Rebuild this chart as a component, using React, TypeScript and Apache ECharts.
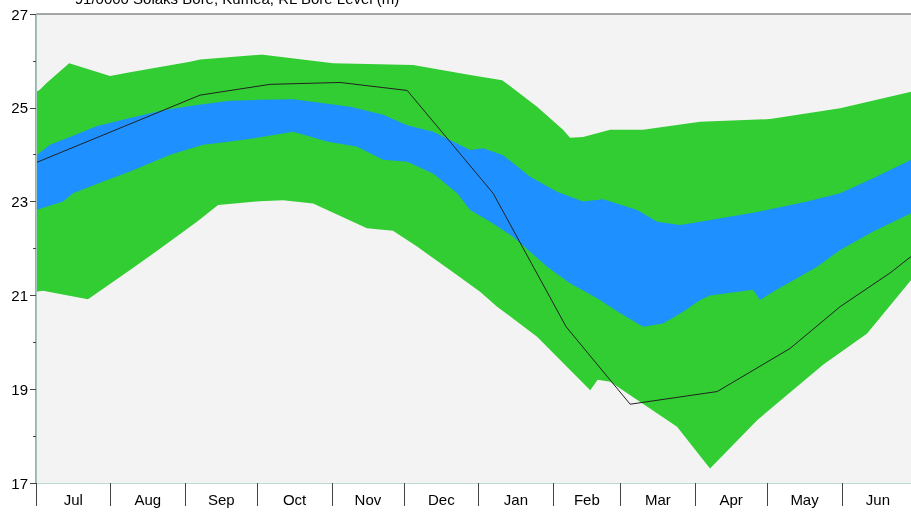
import React, { useEffect, useRef } from "react";
import * as echarts from "echarts";

const months = ["Jul", "Aug", "Sep", "Oct", "Nov", "Dec", "Jan", "Feb", "Mar", "Apr", "May", "Jun"];
const monthStartDays = [0, 31, 62, 92, 123, 153, 184, 215, 243, 274, 304, 335, 365];
const yLabelValues = [17, 19, 21, 23, 25, 27];
const yMinorValues = [18, 20, 22, 24, 26];
const titleText = "91/0000 Solaks Bore, Kumea, RL Bore Level (m)";

const greenUpperDays = [0, 1.5, 4.4, 13.8, 30.8, 39.1, 64.0, 68.2, 93.1, 94.4, 123.5, 156.8, 180.5, 193.8, 208.3, 219.1, 222.0, 227.4, 238.7, 252.4, 276.1, 305.2, 334.3, 363.8, 365];
const greenUpperVals = [25.34, 25.38, 25.53, 25.95, 25.68, 25.76, 25.98, 26.03, 26.13, 26.13, 25.95, 25.91, 25.7, 25.59, 25.02, 24.53, 24.36, 24.38, 24.53, 24.53, 24.7, 24.76, 24.99, 25.34, 25.36];

const blueUpperDays = [0, 5.8, 14.1, 25.4, 39.1, 52.8, 66.9, 80.7, 93.1, 106.9, 130.6, 144.3, 154.3, 165.1, 180.5, 185.9, 194.2, 205.4, 216.6, 227.4, 235.8, 249.9, 258.2, 267.8, 276.1, 299.8, 320.6, 334.3, 348.0, 363.8, 365];
const blueUpperVals = [23.98, 24.21, 24.38, 24.61, 24.78, 24.95, 25.06, 25.15, 25.17, 25.18, 25.02, 24.85, 24.63, 24.49, 24.1, 24.14, 23.99, 23.53, 23.21, 23.0, 23.05, 22.82, 22.57, 22.5, 22.57, 22.78, 23.0, 23.18, 23.5, 23.89, 23.92];

const blueLowerDays = [0, 11.2, 15.4, 29.5, 39.1, 55.7, 69.4, 80.7, 93.1, 106.9, 121.0, 133.5, 144.3, 154.3, 165.1, 175.1, 180.5, 188.8, 198.3, 212.5, 222.0, 233.3, 242.9, 252.4, 260.7, 269.0, 276.1, 280.2, 298.1, 301.0, 306.4, 324.7, 334.3, 348.0, 363.8, 365];
const blueLowerVals = [22.82, 23.0, 23.18, 23.46, 23.64, 24.0, 24.21, 24.28, 24.37, 24.49, 24.28, 24.17, 23.89, 23.85, 23.6, 23.18, 22.82, 22.57, 22.25, 21.61, 21.26, 20.94, 20.62, 20.33, 20.4, 20.65, 20.9, 21.0, 21.12, 20.9, 21.08, 21.61, 21.97, 22.36, 22.75, 22.78];

const greenLowerDays = [0, 2.9, 21.6, 39.1, 52.8, 66.9, 75.7, 93.1, 102.7, 115.2, 137.6, 148.4, 158.4, 172.1, 184.6, 191.7, 208.3, 230.4, 233.5, 238.7, 254.0, 266.5, 271.9, 280.2, 299.8, 327.2, 345.5, 363.8, 365];
const greenLowerVals = [21.08, 21.1, 20.92, 21.54, 22.04, 22.57, 22.93, 23.01, 23.03, 22.96, 22.43, 22.38, 22.04, 21.54, 21.08, 20.76, 20.12, 18.98, 19.2, 19.16, 18.63, 18.2, 17.85, 17.31, 18.34, 19.52, 20.19, 21.33, 21.4];

const levelDays = [0, 68.2, 97.3, 126.4, 154.3, 190.0, 220.4, 247.0, 283.2, 313.5, 334.3, 355.1, 363.8];
const levelVals = [23.83, 25.27, 25.5, 25.54, 25.37, 23.18, 20.33, 18.68, 18.95, 19.87, 20.76, 21.48, 21.83];

const GREEN = "#32cd32";
const BLUE = "#1e90ff";
const BG = "#f3f3f3";
const FONT = "'Liberation Sans', Arial, sans-serif";

const pairs = (d: number[], v: number[]) => d.map((x, i) => [x, v[i]]);

export default function App() {
  const ref = useRef<HTMLDivElement>(null);
  useEffect(() => {
    if (!ref.current) return;
    const chart = echarts.init(ref.current, null, { renderer: "svg" });
    const monthMids = months.map((_, i) => (monthStartDays[i] + monthStartDays[i + 1]) / 2);
    const area = (name: string, d: number[], v: number[], color: string) => ({
      name,
      type: "line",
      data: pairs(d, v),
      showSymbol: false,
      silent: true,
      lineStyle: { width: 0, color },
      itemStyle: { color },
      areaStyle: { color, opacity: 1, origin: "start" },
    });
    chart.setOption({
      animation: false,
      textStyle: { fontFamily: FONT },
      grid: {
        left: 36,
        right: 1,
        top: 14,
        bottom: 31,
        show: true,
        backgroundColor: BG,
        borderColor: "#555",
        borderWidth: 1,
      },
      graphic: [
        {
          type: "text",
          x: 237,
          y: -9,
          style: {
            text: titleText,
            textAlign: "center",
            textVerticalAlign: "top",
            fill: "#000",
            font: `15px ${FONT}`,
          },
        },
      ],
      xAxis: {
        type: "value",
        min: 0,
        max: 365,
        z: 10,
        axisLine: { show: true, lineStyle: { color: "#bcdcd2", width: 1 } },
        axisTick: { show: true, customValues: monthStartDays, length: 23, lineStyle: { color: "#444" } },
        axisLabel: {
          customValues: monthMids,
          formatter: (v: number) => {
            const i = monthMids.findIndex((m) => Math.abs(m - v) < 0.01);
            return i >= 0 ? months[i] : "";
          },
          color: "#000",
          fontSize: 15,
          margin: 9,
          fontFamily: FONT,
        },
        splitLine: { show: false },
      },
      yAxis: [
        {
          type: "value",
          min: 17,
          max: 27,
          interval: 1,
          z: 10,
          axisLine: { show: true, lineStyle: { color: "#a4c4bc", width: 1 } },
          axisTick: { show: true, customValues: yLabelValues, length: 6, lineStyle: { color: "#444" } },
          axisLabel: { customValues: yLabelValues, color: "#000", fontSize: 15, margin: 8, fontFamily: FONT },
          splitLine: { show: false },
        },
        {
          type: "value",
          min: 17,
          max: 27,
          interval: 1,
          position: "left",
          z: 10,
          axisLine: { show: false },
          axisTick: { show: true, customValues: yMinorValues, length: 3, lineStyle: { color: "#444" } },
          axisLabel: { show: false },
          splitLine: { show: false },
        },
      ],
      series: [
        area("Green upper", greenUpperDays, greenUpperVals, GREEN),
        area("Blue upper", blueUpperDays, blueUpperVals, BLUE),
        area("Blue lower", blueLowerDays, blueLowerVals, GREEN),
        area("Green lower", greenLowerDays, greenLowerVals, BG),
        {
          name: "Bore level",
          type: "line",
          data: pairs(levelDays, levelVals),
          showSymbol: false,
          silent: true,
          lineStyle: { width: 1, color: "#222" },
          itemStyle: { color: "#222" },
        },
      ],
    });
    return () => chart.dispose();
  }, []);
  return (
    <div
      ref={ref}
      style={{ position: "fixed", left: 0, top: 0, width: 915, height: 514 }}
    />
  );
}
